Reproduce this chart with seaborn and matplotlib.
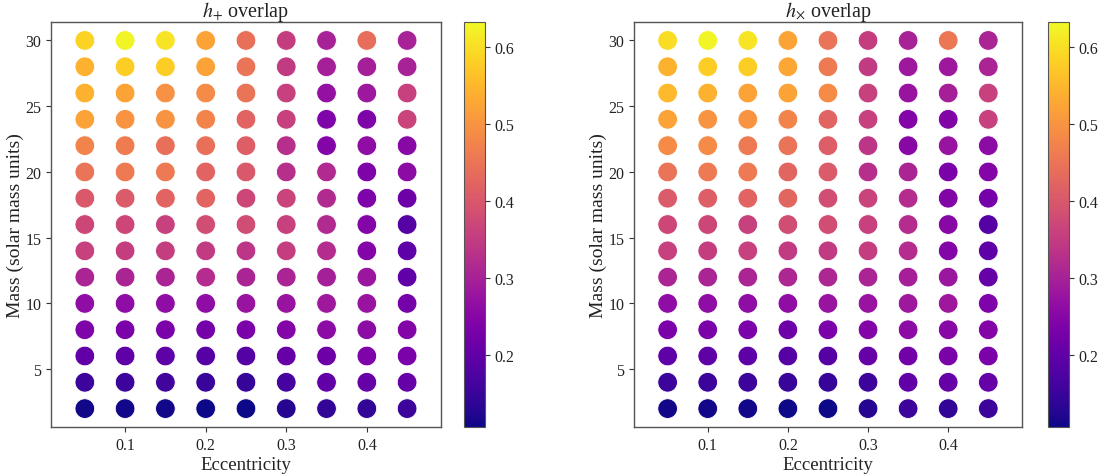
import numpy as np
import pandas as pd
import seaborn as sns
import matplotlib.pyplot as plt
from matplotlib.colors import Normalize
from matplotlib.cm import ScalarMappable

# ejes de la rejilla
eccentricity = [0.05, 0.10, 0.15, 0.20, 0.25, 0.30, 0.35, 0.40, 0.45]
mass = [2, 4, 6, 8, 10, 12, 14, 16, 18, 20, 22, 24, 26, 28, 30]

# overlap h+ (filas = masa de 2 a 30, columnas = excentricidad)
hplus_overlap = [
    [0.111, 0.111, 0.111, 0.107, 0.107, 0.127, 0.143, 0.143, 0.153],
    [0.153, 0.153, 0.159, 0.148, 0.146, 0.164, 0.200, 0.206, 0.206],
    [0.200, 0.196, 0.196, 0.185, 0.185, 0.206, 0.217, 0.238, 0.232],
    [0.238, 0.232, 0.232, 0.227, 0.232, 0.248, 0.259, 0.259, 0.248],
    [0.264, 0.264, 0.264, 0.264, 0.275, 0.275, 0.285, 0.275, 0.227],
    [0.306, 0.306, 0.306, 0.322, 0.306, 0.306, 0.296, 0.280, 0.200],
    [0.359, 0.354, 0.354, 0.348, 0.338, 0.354, 0.322, 0.248, 0.196],
    [0.370, 0.370, 0.359, 0.380, 0.380, 0.359, 0.317, 0.248, 0.185],
    [0.401, 0.406, 0.422, 0.422, 0.370, 0.364, 0.317, 0.238, 0.217],
    [0.448, 0.459, 0.459, 0.422, 0.401, 0.327, 0.317, 0.238, 0.259],
    [0.475, 0.464, 0.443, 0.443, 0.412, 0.327, 0.248, 0.264, 0.254],
    [0.522, 0.500, 0.500, 0.475, 0.422, 0.359, 0.238, 0.238, 0.364],
    [0.543, 0.522, 0.496, 0.485, 0.448, 0.359, 0.270, 0.285, 0.359],
    [0.543, 0.580, 0.580, 0.522, 0.448, 0.348, 0.296, 0.296, 0.301],
    [0.586, 0.628, 0.607, 0.522, 0.443, 0.354, 0.301, 0.438, 0.301],
]

# overlap hx
hcross_overlap = [
    [0.111, 0.111, 0.111, 0.107, 0.107, 0.127, 0.153, 0.143, 0.153],
    [0.153, 0.153, 0.153, 0.148, 0.146, 0.153, 0.200, 0.206, 0.206],
    [0.196, 0.196, 0.196, 0.185, 0.185, 0.206, 0.222, 0.232, 0.232],
    [0.232, 0.232, 0.232, 0.217, 0.232, 0.248, 0.259, 0.254, 0.248],
    [0.264, 0.264, 0.264, 0.264, 0.275, 0.275, 0.285, 0.285, 0.238],
    [0.306, 0.306, 0.306, 0.311, 0.311, 0.306, 0.296, 0.280, 0.206],
    [0.359, 0.354, 0.359, 0.348, 0.348, 0.354, 0.322, 0.248, 0.196],
    [0.370, 0.370, 0.359, 0.380, 0.380, 0.359, 0.322, 0.254, 0.185],
    [0.406, 0.412, 0.422, 0.427, 0.380, 0.364, 0.322, 0.243, 0.227],
    [0.448, 0.459, 0.459, 0.427, 0.406, 0.327, 0.306, 0.232, 0.248],
    [0.485, 0.485, 0.459, 0.448, 0.412, 0.338, 0.254, 0.275, 0.259],
    [0.522, 0.500, 0.500, 0.475, 0.422, 0.359, 0.248, 0.243, 0.359],
    [0.554, 0.543, 0.522, 0.522, 0.485, 0.359, 0.275, 0.296, 0.359],
    [0.543, 0.580, 0.580, 0.527, 0.459, 0.348, 0.285, 0.285, 0.306],
    [0.600, 0.628, 0.607, 0.522, 0.448, 0.354, 0.301, 0.454, 0.306],
]

vmin, vmax = 0.106, 0.633

sns.set_style("white")
plt.rcParams["font.family"] = ["Liberation Serif", "DejaVu Serif"]
plt.rcParams["mathtext.fontset"] = "stix"


def to_frame(values):
    rows = []
    for i, m in enumerate(mass):
        for j, e in enumerate(eccentricity):
            rows.append({"ecc": e, "mass": m, "overlap": values[i][j]})
    return pd.DataFrame(rows)


fig = plt.figure(figsize=(11.01, 4.77), dpi=100)

paneles = [
    (hplus_overlap, r"$h_{+}$ overlap", [0.0463, 0.1027, 0.3542, 0.849], [0.4214, 0.1027, 0.0191, 0.849]),
    (hcross_overlap, r"$h_{\times}$ overlap", [0.5758, 0.1027, 0.3524, 0.849], [0.9519, 0.1027, 0.0191, 0.849]),
]

norm = Normalize(vmin=vmin, vmax=vmax)

for values, titulo, pos_ax, pos_cb in paneles:
    ax = fig.add_axes(pos_ax)
    cax = fig.add_axes(pos_cb)
    df = to_frame(values)
    sns.scatterplot(
        data=df, x="ecc", y="mass", hue="overlap",
        palette="plasma", hue_norm=(vmin, vmax),
        s=200, edgecolor="white", linewidth=0.6,
        legend=False, ax=ax,
    )
    ax.set_xlim(0.008, 0.492)
    ax.set_ylim(0.6, 31.4)
    ax.set_xticks([0.1, 0.2, 0.3, 0.4])
    ax.set_yticks([5, 10, 15, 20, 25, 30])
    ax.tick_params(axis="both", labelsize=11.5, length=3.5, width=0.8,
                   direction="out", bottom=True, left=True, color="#333333",
                   labelcolor="#222222")
    ax.set_xlabel("Eccentricity", fontsize=13.5, labelpad=2, color="#222222")
    ax.set_ylabel("Mass (solar mass units)", fontsize=14, labelpad=1, color="#222222")
    ax.set_title(titulo, fontsize=14.5, pad=4, color="#222222")
    for sp in ax.spines.values():
        sp.set_color("#555555")
        sp.set_linewidth(1.0)

    sm = ScalarMappable(norm=norm, cmap="plasma")
    cb = fig.colorbar(sm, cax=cax)
    cb.set_ticks([0.2, 0.3, 0.4, 0.5, 0.6])
    cb.ax.tick_params(labelsize=11.5, length=3.5, width=0.8, color="#333333",
                      labelcolor="#222222")
    cb.outline.set_edgecolor("#555555")

plt.savefig("out.png", dpi=100)
